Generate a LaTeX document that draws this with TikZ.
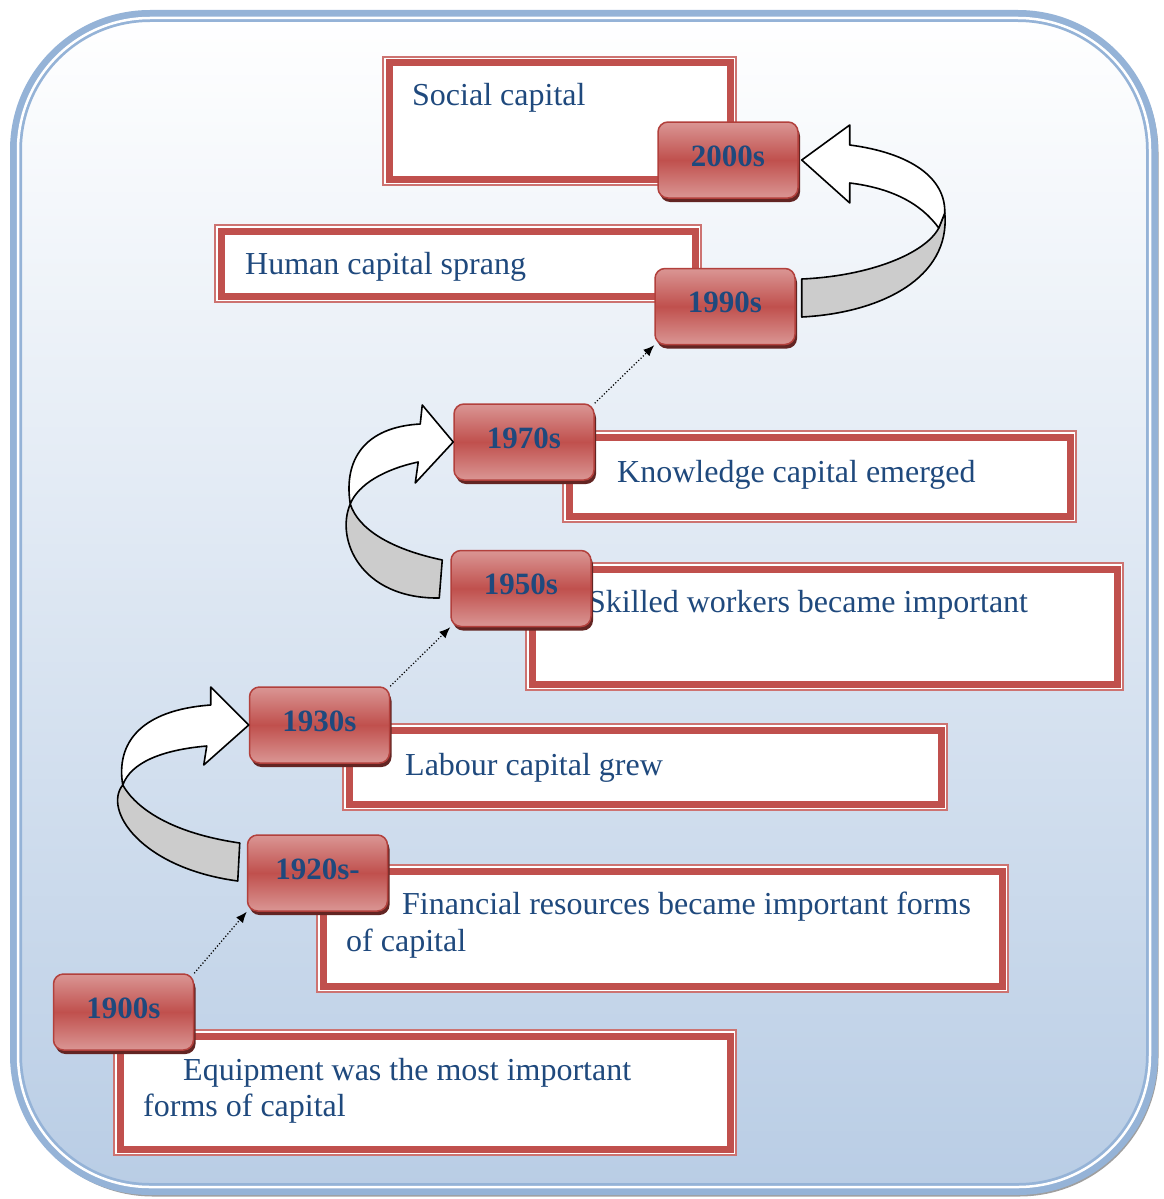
\documentclass[tikz,border=0pt]{standalone}
\usepackage{fontspec}
\setmainfont{Liberation Serif}
\usetikzlibrary{arrows.meta,shadows}

\definecolor{textblue}{RGB}{31,73,125}
\definecolor{boxred}{RGB}{192,80,77}
\definecolor{yearlight}{RGB}{218,150,148}
\definecolor{yearedge}{RGB}{178,64,60}
\definecolor{yeardark}{RGB}{99,37,35}
\definecolor{bgblue}{RGB}{149,179,215}
\definecolor{bgbottom}{RGB}{185,205,229}
\definecolor{foldgray}{RGB}{204,204,204}

\begin{document}
\begin{tikzpicture}[x=1pt, y=-1pt]
    % Define styles
    \tikzstyle{capbox} = [rectangle, draw=boxred, line width=7pt, fill=white, preaction={draw=boxred!80, line width=1.5pt, double=white, double distance=10.5pt}]
    \tikzstyle{captext} = [anchor=base west, inner sep=0pt, text=textblue, font=\fontsize{32}{37}\selectfont]
    \tikzstyle{yearbox} = [rectangle, rounded corners=10pt, minimum width=140pt, minimum height=76pt, draw=yearedge, line width=1.5pt, top color=yearlight, bottom color=yearlight, middle color=boxred, text=textblue, text depth=8pt, font=\fontsize{31}{36}\selectfont\bfseries, drop shadow={shadow xshift=2pt, shadow yshift=-4pt, fill=yeardark, opacity=1}]
    \tikzstyle{dotarrow} = [dash pattern=on 1.2pt off 2pt, line width=1.2pt, -{Latex[length=11pt,width=9pt]}]
    \tikzstyle{ribbon} = [draw=black, line width=1.6pt, line join=round]

    \useasboundingbox (0,0) rectangle (1163,1199);

    % Background panel
    \draw[gray!75, line width=3pt, rounded corners=138pt] (15,15) rectangle (1157,1195);
    \shade[top color=white, bottom color=bgbottom, rounded corners=134pt] (16,16) rectangle (1152,1189);
    \draw[bgblue, line width=12pt, rounded corners=134pt] (16,16) rectangle (1152,1189);
    \draw[white, line width=2.5pt, rounded corners=132pt] (18,18) rectangle (1150,1187);

    % Text boxes
    \node[capbox, minimum width=341pt, minimum height=116pt] (socialbox) at (559.5,121) {};
    \node[capbox, minimum width=474pt, minimum height=65pt] (humanbox) at (458,263.5) {};
    \node[capbox, minimum width=501pt, minimum height=79pt] (knowbox) at (819.5,476.5) {};
    \node[capbox, minimum width=585pt, minimum height=115pt] (skillbox) at (824.5,626.5) {};
    \node[capbox, minimum width=592pt, minimum height=74pt] (labourbox) at (645,767) {};
    \node[capbox, minimum width=679pt, minimum height=115pt] (finbox) at (662.5,928.5) {};
    \node[capbox, minimum width=610pt, minimum height=113pt] (equipbox) at (425,1092.5) {};

    \node[captext] (social) at (412,105) {Social capital};
    \node[captext] (human) at (245,274) {Human capital sprang};
    \node[captext] (know) at (617,482) {Knowledge capital emerged};
    \node[captext] (skill) at (588,612) {Skilled workers became important};
    \node[captext] (labour) at (405,775) {Labour capital grew};
    \node[captext] (fina) at (402,914) {Financial resources became important forms};
    \node[captext] (finb) at (346,951) {of capital};
    \node[captext] (equipa) at (183,1080) {Equipment was the most important};
    \node[captext] (equipb) at (143,1116) {forms of capital};

    % Year boxes
    \node[yearbox] (y2000) at (728,160) {2000s};
    \node[yearbox] (y1990) at (725,306.5) {1990s};
    \node[yearbox] (y1970) at (524,442) {1970s};
    \node[yearbox] (y1950) at (521,588.5) {1950s};
    \node[yearbox] (y1930) at (319.5,725) {1930s};
    \node[yearbox] (y1920) at (317.5,873) {1920s-};
    \node[yearbox] (y1900) at (123.5,1012) {1900s};

    % Curved arrows, tip on the later box
    \begin{scope}[shift={(y1930.west)}]
        \filldraw[ribbon, fill=foldgray] (-126,60) .. controls (-146,85) and (-108,143) .. (-11,156) -- (-9,118) .. controls (-78,108) and (-113,83) .. (-126,60) -- cycle;
        \filldraw[ribbon, fill=white] (-126,60) .. controls (-133,18) and (-108,-15) .. (-38,-20) -- (-38,-38) -- (0,0) -- (-45,40) -- (-42,21) .. controls (-88,25) and (-118,38) .. (-126,60) -- cycle;
    \end{scope}
    \begin{scope}[shift={(y1970.west)}]
        \filldraw[ribbon, fill=foldgray] (-103,62) .. controls (-118,97) and (-93,157) .. (-14,156) -- (-11,118) .. controls (-63,107) and (-95,87) .. (-103,62) -- cycle;
        \filldraw[ribbon, fill=white] (-103,62) .. controls (-110,17) and (-88,-15) .. (-33,-18) -- (-31,-37) -- (0,0) -- (-38,41) -- (-35,20) .. controls (-68,27) and (-95,42) .. (-103,62) -- cycle;
    \end{scope}
    \begin{scope}[shift={(y2000.east)}]
        \filldraw[ribbon, fill=foldgray] (146,53) .. controls (152,118) and (82,153) .. (3,157) -- (3,119) .. controls (72,116) and (127,93) .. (140,68) -- cycle;
        \filldraw[ribbon, fill=white] (51,-15) .. controls (112,-7) and (147,18) .. (146,53) -- (140,68) .. controls (122,43) and (92,28) .. (51,23) -- (51,43) -- (3,0) -- (51,-35) -- cycle;
    \end{scope}

    % Dotted arrows
    \draw[dotarrow] (y1900.north east) -- (y1920.south west);
    \draw[dotarrow] (y1930.north east) -- (y1950.south west);
    \draw[dotarrow] (y1970.north east) -- (y1990.south west);
\end{tikzpicture}
\end{document}
